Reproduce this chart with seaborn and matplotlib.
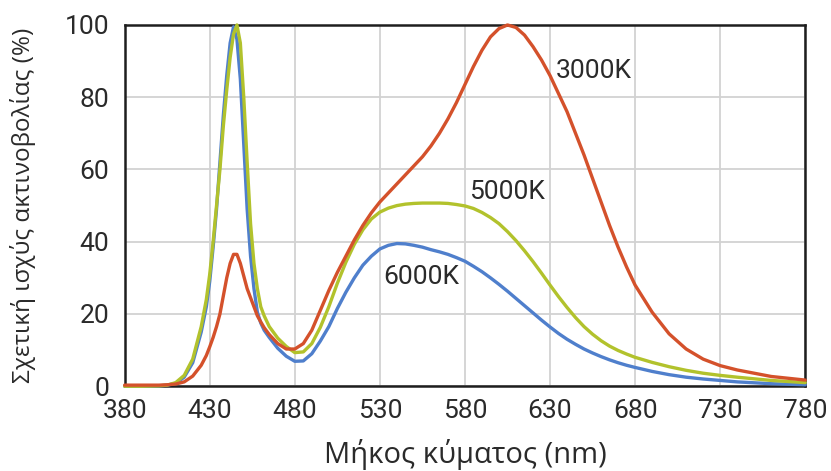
import matplotlib
matplotlib.use("Agg")
import matplotlib.pyplot as plt
import seaborn as sns
import pandas as pd

wavelength = [380, 390, 400, 405, 410, 415, 420, 425,
              428, 430, 432, 434, 436, 438, 440, 442, 444, 446,
              448, 450, 452, 454, 456, 458, 460, 462, 465, 470,
              475, 480, 485, 490, 495, 500, 505, 510, 515, 520,
              525, 530, 535, 540, 545, 550, 555, 560, 565, 570,
              575, 580, 585, 590, 595, 600, 605, 610, 615, 620,
              625, 630, 635, 640, 645, 650, 655, 660, 665, 670,
              675, 680, 690, 700, 710, 720, 730, 740, 760, 780]

k6000 = [0, 0, 0.1, 0.3, 0.8, 2.5, 6.5, 15,
         22, 29, 38.5, 49, 62, 75, 86, 95, 99.5, 96,
         85, 67, 49, 36, 27, 20.5, 17.5, 15.5, 13.5, 10.5,
         8.3, 6.9, 7.0, 9, 12.5, 16.5, 21.5, 26, 30, 33.5,
         36, 38, 39, 39.5, 39.4, 39, 38.5, 37.8, 37.2, 36.5,
         35.6, 34.6, 33.2, 31.7, 30, 28.2, 26.3, 24.3, 22.3, 20.3,
         18.3, 16.4, 14.6, 13, 11.6, 10.3, 9.2, 8.2, 7.3, 6.5,
         5.8, 5.2, 4.1, 3.2, 2.5, 2, 1.6, 1.2, 0.7, 0.4]

k5000 = [0, 0, 0.1, 0.3, 1, 3, 7.5, 16.5,
         24, 31, 40, 50, 60, 72, 82, 91, 97.5, 100,
         95, 80, 62, 45, 34, 27, 22, 19.5, 16.5, 13.3,
         11, 9.3, 9.5, 11.8, 16.3, 22, 28.5, 34.3, 39.3, 43.3,
         46.3, 48.2, 49.3, 50, 50.4, 50.6, 50.7, 50.7, 50.7, 50.6,
         50.3, 49.9, 49.2, 48.1, 46.7, 45, 42.8, 40.3, 37.5, 34.5,
         31.3, 28, 24.8, 21.8, 19, 16.5, 14.4, 12.6, 11.1, 9.9,
         8.9, 8, 6.6, 5.4, 4.4, 3.6, 3, 2.5, 1.6, 1]

k3000 = [0.3, 0.3, 0.3, 0.4, 0.6, 1.2, 2.8, 5.8,
         8.5, 10.9, 13.5, 16.5, 20, 25, 30, 34, 36.5, 36.5,
         34, 30.5, 27, 24.5, 22, 19.5, 17.8, 16.2, 14.3, 11.8,
         10.3, 10.3, 11.8, 15.5, 21, 26.5, 31.5, 36, 40.5, 44.5,
         48, 51, 53.5, 56, 58.5, 61, 63.5, 66.5, 70, 74,
         78.5, 83.5, 88.5, 93, 96.7, 99, 100, 99.3, 97.2, 94,
         90.3, 86, 81, 76, 70, 64, 57.5, 51, 44.5, 38.5,
         33, 28, 20.5, 14.5, 10.3, 7.5, 5.7, 4.5, 2.7, 1.7]

series_names = ["6000K", "5000K", "3000K"]
series_colors = ["#4F7FCC", "#B2C22C", "#D4512B"]
label_pos = [(532, 30.3), (582.5, 53.7), (633.5, 87.2)]

xticks = [380, 430, 480, 530, 580, 630, 680, 730, 780]
yticks = [0, 20, 40, 60, 80, 100]

sns.set_style("white")
plt.rcParams['font.family'] = ['Roboto', 'DejaVu Sans']

fig = plt.figure(figsize=(8.31, 4.71), dpi=100)
ax = fig.add_axes([0.150, 0.180, 0.819, 0.767])

df = pd.DataFrame({"wl": wavelength, "6000K": k6000, "5000K": k5000, "3000K": k3000})
for name, color in zip(series_names, series_colors):
    sns.lineplot(data=df, x="wl", y=name, color=color, linewidth=2.4, ax=ax,
                 clip_on=False, zorder=3)

for name, (x, y) in zip(series_names, label_pos):
    ax.text(x, y, name, fontsize=19, color="#2a2a2a", va="center", ha="left")

ax.set_xlim(380, 780)
ax.set_ylim(0, 100)
ax.set_xticks(xticks)
ax.set_yticks(yticks)
ax.grid(True, color="#d2d2d2", linewidth=1.3)
ax.set_axisbelow(True)
for s in ax.spines.values():
    s.set_visible(True)
    s.set_color("#1e1e1e")
    s.set_linewidth(1.8)
ax.tick_params(axis="both", labelsize=19, colors="#2a2a2a", direction="out",
               length=4, width=1)
ax.tick_params(axis="x", pad=5)
ax.tick_params(axis="y", pad=7)
ax.set_xlabel("Μήκος κύματος (nm)", fontsize=21, color="#2a2a2a",
              family=["Open Sans", "DejaVu Sans"])
ax.set_ylabel("Σχετική ισχύς ακτινοβολίας (%)", fontsize=17.5, color="#2a2a2a",
              family=["Open Sans", "DejaVu Sans"])
ax.xaxis.set_label_coords(0.5, -0.145)
ax.yaxis.set_label_coords(-0.13, 0.5)

fig.savefig("out.png", dpi=100)
